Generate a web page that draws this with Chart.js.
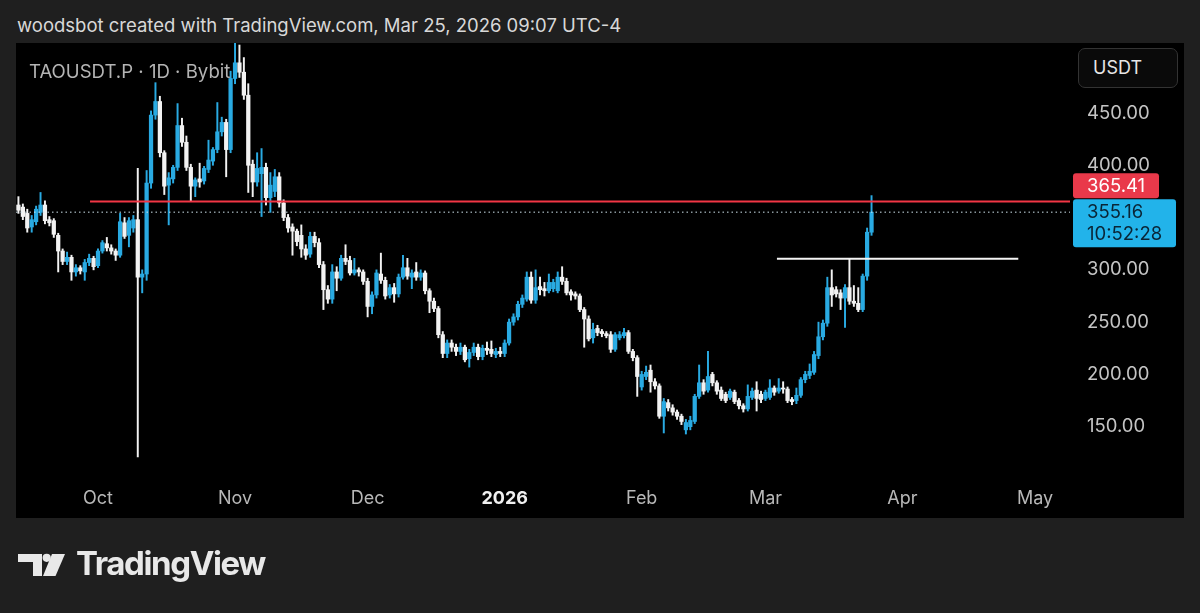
<!DOCTYPE html>
<html>
<head>
<meta charset="utf-8">
<script src="https://cdn.jsdelivr.net/npm/chart.js@4.4.1/dist/chart.umd.min.js"></script>
<style>
  html, body { margin: 0; padding: 0; }
  body { width: 1200px; height: 613px; background: #1f1f1f; overflow: hidden; position: relative;
         font-family: "Inter", "Noto Sans", sans-serif; }
  #header { position: absolute; left: 17px; top: 14px; font-size: 18.5px; color: #d8d8d8; white-space: nowrap; }
  #panel { position: absolute; left: 16px; top: 43px; width: 1168px; height: 475px; background: #000; }
  #symbol { position: absolute; left: 13px; top: 17px; font-size: 18.6px; color: #b4b4b4; white-space: nowrap; z-index: 2; }
  #unit { position: absolute; left: 1062px; top: 5px; width: 84px; height: 38px; border: 1px solid #333;
          border-radius: 7px; background: #0a0a0a; color: #e6e6e6; font-size: 18px; line-height: 38px;
          padding-left: 14px; z-index: 2; }
  #logo { position: absolute; left: 0; top: 0; }
  #logoText { position: absolute; left: 76px; top: 543px; font-size: 33px; font-weight: 700; color: #e8e8e8;
              letter-spacing: -1.4px; white-space: nowrap; }
</style>
</head>
<body>
<div id="header">woodsbot created with TradingView.com, Mar 25, 2026 09:07 UTC-4</div>
<div id="panel">
  <canvas id="chart"></canvas>
  <div id="symbol">TAOUSDT.P · 1D · Bybit</div>
  <div id="unit">USDT</div>
</div>
<svg id="logo" width="200" height="613">
  <path d="M18 554 H42 V576 H33 V562 H18 Z" fill="#e8e8e8"/>
  <circle cx="46.7" cy="557.8" r="4.1" fill="#e8e8e8"/>
  <path d="M52 554 H65 L55.5 576 H43 Z" fill="#e8e8e8"/>
</svg>
<div id="logoText">TradingView</div>

<script>
// TAOUSDT.P daily candles, Sep 13 2025 .. Mar 25 2026
const firstDay = new Date(2025, 8, 13);

const opens = [
  362,360,354,341,346,355,362,348,347,333,
  318,308,312,298,302,298,307,311,304,318,
  325,321,318,314,345,333,340,348,293,296,
  383,448,461,412,381,387,398,438,422,398,
  380,387,385,396,404,415,432,441,415,483,
  498,489,467,401,384,392,398,369,375,389,
  364,350,341,337,333,320,315,332,326,305,
  281,272,298,292,311,309,297,300,298,289,
  265,276,296,290,276,283,277,293,302,293,
  298,293,297,280,270,263,238,220,230,226,
  222,226,215,221,226,217,225,224,219,222,
  220,230,250,255,267,272,293,271,284,282,
  280,282,280,293,289,279,277,275,262,253,
  235,244,241,239,238,224,235,237,240,222,
  216,188,198,204,193,189,160,173,168,164,
  160,147,150,155,179,192,185,200,192,185,
  181,178,183,175,170,167,178,185,181,177,
  178,187,184,187,186,176,175,180,195,199,
  202,218,236,249,283,281,278,273,283,270,
  268,262,294,336
];
const highs = [
  370,363,358,352,361,374,366,351,349,335,
  320,317,314,305,304,310,315,313,320,328,
  331,324,320,354,350,350,352,397,300,395,
  452,479,466,414,393,400,459,445,428,401,
  388,402,399,424,417,460,446,444,490,517,
  515,503,478,405,412,416,402,393,396,393,
  367,353,344,339,343,324,336,336,330,308,
  285,305,303,314,324,313,311,302,300,292,
  279,300,316,293,286,287,296,314,311,300,
  307,300,299,282,273,265,241,233,233,229,
  230,228,224,230,229,228,231,232,225,226,
  233,253,258,270,276,298,298,300,293,288,
  296,291,298,303,292,281,279,277,264,256,
  249,247,243,241,241,240,241,244,242,224,
  218,203,208,209,196,191,177,176,171,166,
  162,157,160,181,209,195,222,202,194,188,
  183,186,185,177,172,190,187,193,184,185,
  195,189,196,193,188,178,187,197,203,210,
  222,250,252,293,300,284,281,286,311,285,
  283,296,340,371
];
const lows = [
  354,348,336,336,343,352,344,342,331,298,
  305,305,290,294,296,290,304,300,302,316,
  318,315,309,312,330,322,336,121,278,290,
  378,444,408,372,343,383,395,418,395,366,
  370,379,382,393,400,412,428,389,412,478,
  484,463,374,370,380,351,362,355,370,360,
  347,336,314,323,312,310,312,322,302,262,
  268,268,280,290,305,295,295,294,286,255,
  258,273,287,272,273,269,274,291,291,282,
  290,290,277,259,260,235,216,216,222,218,
  219,212,207,218,214,214,219,217,216,217,
  217,228,247,252,264,270,268,268,276,275,
  278,279,278,286,276,271,272,260,226,232,
  230,237,236,235,221,222,233,235,220,213,
  179,185,195,183,186,158,144,165,161,157,
  152,143,147,153,177,181,183,189,181,175,
  173,176,172,167,164,165,176,165,173,175,
  176,180,182,182,173,171,172,178,192,196,
  200,215,233,246,265,274,262,245,267,265,
  260,260,290,333
];
const closes = [
  357,351,340,348,358,362,347,345,334,318,
  308,312,298,302,299,307,311,303,318,326,
  321,318,314,346,332,347,348,293,296,383,
  448,461,412,380,388,398,438,422,398,380,
  386,384,397,405,415,432,441,415,483,498,
  489,467,400,384,397,398,369,381,389,364,
  350,340,337,327,320,314,332,326,305,281,
  272,298,292,311,308,297,300,298,289,265,
  276,297,290,275,283,277,293,302,294,297,
  293,297,280,270,263,238,220,230,226,222,
  226,214,221,226,217,225,223,220,222,220,
  230,250,255,267,273,293,271,283,281,280,
  288,288,293,289,278,276,275,262,253,234,
  243,240,239,237,224,238,238,240,222,216,
  198,200,202,193,189,160,174,168,164,160,
  155,154,156,179,192,184,198,192,184,177,
  175,184,174,170,167,179,184,177,176,183,
  187,183,187,186,175,174,180,195,200,203,
  219,236,249,283,276,277,273,283,270,268,
  262,294,336,355.16
];

// x axis: days counted from Oct 1 2025
const monthDays   = [0, 31, 61, 92, 123, 151, 182, 212];
const monthLabels = ['Oct', 'Nov', 'Dec', '2026', 'Feb', 'Mar', 'Apr', 'May'];
const priceTicks  = [150, 200, 250, 300, 350, 400, 450];

// drawn levels
const redLevel = 365.41;
const redLineFrom = -1.8;
const whiteLevel = 310.6;
const whiteLineFrom = 153.6;
const whiteLineTo = 208.2;
const lastPrice = 355.16;
const countdown = '10:52:28';

const BLUE = '#29aae2';
const WHITE = '#f2f2f2';
const RED = '#f23645';

const oct1 = new Date(2025, 9, 1);
const dayOffsets = opens.map((_, i) => {
  const d = new Date(firstDay); d.setDate(d.getDate() + i);
  return Math.round((d - oct1) / 86400000);
});
const candleColor = opens.map((o, i) => closes[i] >= o ? BLUE : WHITE);

const X_MIN = -18.55, X_MAX = 219.9;

const priceLabels = {
  id: 'priceLabels',
  afterDraw(chart) {
    const ctx = chart.ctx, y = chart.scales.y;
    const left = chart.chartArea.right + 3;
    const pLast = y.getPixelForValue(lastPrice);
    const blueTop = pLast - 13;
    ctx.save();
    // blue last-price box
    ctx.fillStyle = '#22b3ea';
    roundRect(ctx, left, blueTop, 103, 48, 3); ctx.fill();
    ctx.fillStyle = '#0a2536';
    ctx.font = '18.5px Inter, sans-serif';
    ctx.textBaseline = 'middle';
    ctx.textAlign = 'left';
    ctx.fillText(lastPrice.toFixed(2), left + 14, blueTop + 13);
    ctx.fillText(countdown, left + 14, blueTop + 35);
    // red level box, pushed up above the blue one
    const redBottom = blueTop - 1;
    ctx.fillStyle = '#e9394a';
    roundRect(ctx, left, redBottom - 25, 86, 25, 3); ctx.fill();
    ctx.fillStyle = '#ffffff';
    ctx.fillText(redLevel.toFixed(2), left + 14, redBottom - 12);
    ctx.restore();
  }
};
function roundRect(ctx, x, y, w, h, r) {
  ctx.beginPath();
  ctx.moveTo(x + r, y); ctx.lineTo(x + w - r, y); ctx.quadraticCurveTo(x + w, y, x + w, y + r);
  ctx.lineTo(x + w, y + h - r); ctx.quadraticCurveTo(x + w, y + h, x + w - r, y + h);
  ctx.lineTo(x + r, y + h); ctx.quadraticCurveTo(x, y + h, x, y + h - r);
  ctx.lineTo(x, y + r); ctx.quadraticCurveTo(x, y, x + r, y);
  ctx.closePath();
}

const canvas = document.getElementById('chart');
canvas.width = 1168; canvas.height = 475;

new Chart(canvas, {
  type: 'bar',
  data: {
    datasets: [
      {
        type: 'line', order: 0,
        data: [{ x: redLineFrom, y: redLevel }, { x: X_MAX, y: redLevel }],
        borderColor: RED, borderWidth: 2, pointRadius: 0
      },
      {
        type: 'line', order: 0,
        data: [{ x: whiteLineFrom, y: whiteLevel }, { x: whiteLineTo, y: whiteLevel }],
        borderColor: '#f4f4f4', borderWidth: 2, pointRadius: 0
      },
      {
        type: 'line', order: 0,
        data: [{ x: X_MIN, y: lastPrice }, { x: X_MAX, y: lastPrice }],
        borderColor: '#cfe3ec', borderWidth: 1, borderDash: [1.5, 3], pointRadius: 0
      },
      {
        order: 1, grouped: false,
        data: dayOffsets.map((d, i) => ({ x: d, y: [opens[i], closes[i]] })),
        backgroundColor: candleColor, barThickness: 3.6, minBarLength: 1,
        borderWidth: 0, borderSkipped: false
      },
      {
        order: 2, grouped: false,
        data: dayOffsets.map((d, i) => ({ x: d, y: [lows[i], highs[i]] })),
        backgroundColor: candleColor, barThickness: 1.3,
        borderWidth: 0, borderSkipped: false
      }
    ]
  },
  options: {
    responsive: false,
    animation: false,
    devicePixelRatio: 1,
    layout: { padding: 0 },
    plugins: { legend: { display: false }, tooltip: { enabled: false } },
    scales: {
      x: {
        type: 'linear', min: X_MIN, max: X_MAX, offset: false,
        grid: { display: false, drawTicks: false }, border: { display: false },
        afterBuildTicks: s => { s.ticks = monthDays.map(v => ({ value: v })); },
        afterFit: s => { s.height = 40; s.paddingLeft = 0; s.paddingRight = 0; },
        ticks: {
          autoSkip: false, maxRotation: 0, padding: 10,
          callback: (v) => monthLabels[monthDays.indexOf(v)],
          color: c => (c.tick && c.tick.value === 92) ? '#f0f0f0' : '#b8b8b8',
          font: c => (c.tick && c.tick.value === 92)
            ? { family: 'Inter', size: 18, weight: 'bold' }
            : { family: 'Inter', size: 18 }
        }
      },
      y: {
        position: 'right', min: 100.94, max: 516.94,
        grid: { display: false, drawTicks: false }, border: { display: false },
        afterBuildTicks: s => { s.ticks = priceTicks.map(v => ({ value: v })); },
        afterFit: s => { s.width = 114; s.paddingTop = 0; s.paddingBottom = 0; },
        ticks: {
          padding: 17, color: '#c4c4c4',
          font: { family: 'Inter', size: 18.5 },
          callback: v => v.toFixed(2)
        }
      }
    }
  },
  plugins: [priceLabels]
});
</script>
</body>
</html>
